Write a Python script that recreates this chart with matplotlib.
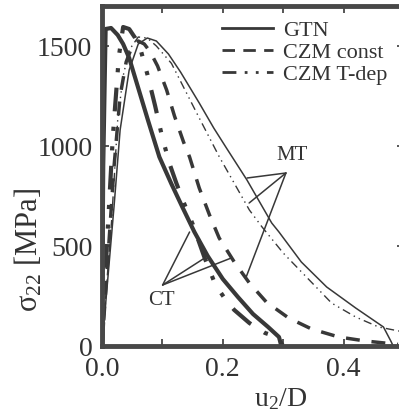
import matplotlib
matplotlib.use("Agg")
import matplotlib.pyplot as plt
from matplotlib.lines import Line2D
from matplotlib.ticker import MultipleLocator

plt.rcParams['font.family'] = ['Liberation Serif', 'DejaVu Serif']
plt.rcParams['mathtext.fontset'] = 'custom'
plt.rcParams['mathtext.rm'] = 'Liberation Serif'
plt.rcParams['mathtext.it'] = 'Liberation Serif:italic'

# ---- data ----
ct_gtn_u = [0, 0.002, 0.006, 0.015, 0.026, 0.035, 0.045, 0.06, 0.076, 0.095, 0.115,
            0.133, 0.153, 0.175, 0.2, 0.225, 0.25, 0.275, 0.293, 0.297]
ct_gtn_s = [0, 900, 1585, 1590, 1555, 1510, 1440, 1290, 1130, 945, 810,
            695, 570, 450, 335, 245, 160, 95, 45, 0]

ct_tdep_u = [0, 0.008, 0.018, 0.028, 0.035, 0.045, 0.055, 0.065, 0.075, 0.088, 0.1,
             0.112, 0.123, 0.135, 0.15, 0.17, 0.188, 0.205, 0.219, 0.244, 0.27, 0.29, 0.30]
ct_tdep_s = [0, 500, 1050, 1450, 1595, 1585, 1540, 1470, 1360, 1200, 1040,
             910, 815, 720, 610, 440, 305, 230, 180, 115, 65, 45, 0]

czm_const_u = [0, 0.01, 0.02, 0.03, 0.04, 0.05, 0.06, 0.07, 0.08, 0.092, 0.107, 0.12,
               0.135, 0.145, 0.161, 0.178, 0.194, 0.219, 0.244, 0.272, 0.309, 0.347,
               0.392, 0.436, 0.49]
czm_const_s = [0, 450, 900, 1250, 1420, 1500, 1525, 1510, 1470, 1400, 1280, 1150,
               1020, 945, 790, 655, 540, 420, 315, 220, 140, 85, 45, 25, 8]

mt_gtn_u = [0, 0.01, 0.02, 0.03, 0.045, 0.06, 0.075, 0.09, 0.11, 0.13, 0.161, 0.185,
            0.206, 0.24, 0.281, 0.293, 0.33, 0.372, 0.42, 0.466, 0.479, 0.482]
mt_gtn_s = [0, 350, 700, 1080, 1380, 1510, 1540, 1525, 1460, 1370, 1215, 1090,
            990, 830, 615, 570, 420, 295, 190, 95, 20, 0]

mt_tdep_u = [0, 0.008, 0.016, 0.026, 0.035, 0.045, 0.06, 0.075, 0.09, 0.115, 0.161,
             0.194, 0.244, 0.265, 0.3, 0.38, 0.42, 0.458, 0.5]
mt_tdep_s = [0, 320, 630, 1130, 1350, 1480, 1545, 1540, 1500, 1413, 1140,
             947, 680, 595, 465, 215, 145, 95, 70]

legend_labels = ['GTN', 'CZM const', 'CZM T-dep']
xtick_vals = [0.0, 0.2, 0.4]
xtick_labels = ['0.0', '0.2', '0.4']
ytick_vals = [0, 500, 1000, 1500]

# annotation anchors (label text, tip, targets)
mt_label = (0.314, 955)
mt_tip = (0.3045, 865)
mt_targets = [(0.2403, 840), (0.2436, 715), (0.2387, 345)]
ct_label = (0.098, 230)
ct_tip = (0.1004, 305)
ct_targets = [(0.145, 570), (0.170, 440), (0.214, 440)]

# ---- figure ----
W, H = 399, 415
fig = plt.figure(figsize=(W / 100, H / 100), dpi=100)
ax = fig.add_axes([102 / W, (H - 346) / H, 302 / W, 340 / H])

c_line = '#383838'
c_axis = '#484848'

dash_const = (0, (4.0, 3.4))
dashdot_thick = (0, (5.7, 3.7, 1.0, 3.7, 1.0, 3.7))
dashdot_thin = (0, (6.0, 3.0, 1.0, 3.0, 1.0, 3.0))

ax.plot(mt_gtn_u, mt_gtn_s, color=c_line, lw=1.1, solid_capstyle='butt')
ax.plot(mt_tdep_u, mt_tdep_s, color=c_line, lw=1.0, linestyle=dashdot_thin,
        dash_capstyle='butt')
ax.plot(czm_const_u, czm_const_s, color=c_line, lw=2.5, linestyle=dash_const,
        dash_capstyle='butt')
ax.plot(ct_tdep_u, ct_tdep_s, color=c_line, lw=3.0, linestyle=dashdot_thick,
        dash_capstyle='butt')
ax.plot(ct_gtn_u, ct_gtn_s, color=c_line, lw=3.0, solid_capstyle='butt')

# pointers
for tgt in mt_targets:
    ax.annotate('', xy=tgt, xytext=mt_tip,
                arrowprops=dict(arrowstyle='-', lw=1.1, color=c_line,
                                shrinkA=0, shrinkB=0))
for tgt in ct_targets:
    ax.annotate('', xy=tgt, xytext=ct_tip,
                arrowprops=dict(arrowstyle='-', lw=1.1, color=c_line,
                                shrinkA=0, shrinkB=0))
ax.text(mt_label[0], mt_label[1], 'MT', fontsize=15, color='#333333',
        ha='center', va='center')
ax.text(ct_label[0], ct_label[1], 'CT', fontsize=15, color='#333333',
        ha='center', va='center')

ax.set_xlim(0, 0.5)
ax.set_ylim(0, 1700)

ax.set_xticks(xtick_vals)
ax.set_xticklabels(xtick_labels)
ax.xaxis.set_minor_locator(MultipleLocator(0.1))
ax.set_yticks(ytick_vals)
ax.tick_params(which='both', direction='in', top=True, right=True,
               length=5, width=1.3, color=c_axis, labelsize=20,
               labelcolor='#333333')
ax.tick_params(axis='x', pad=8)
ax.tick_params(axis='y', pad=7)

for sp in ax.spines.values():
    sp.set_linewidth(3.5)
    sp.set_color(c_axis)

ax.set_ylabel(r'$\mathrm{\sigma_{22}}$ [MPa]', fontsize=22, color='#333333')
ax.yaxis.set_label_coords(-0.19, 0.282)
ax.set_xlabel(r'$\mathrm{u_2/D}$', fontsize=20, color='#333333')
ax.xaxis.set_label_coords(0.593, -0.118)

handles = [
    Line2D([], [], color=c_line, lw=2.0),
    Line2D([], [], color=c_line, lw=2.0, linestyle=(0, (4.5, 3.0))),
    Line2D([], [], color=c_line, lw=2.0, linestyle=(0, (5.0, 3.0, 1.0, 3.0, 1.0, 3.0))),
]
leg = ax.legend(handles, legend_labels, loc='upper left',
                bbox_to_anchor=(0.397, 0.957), frameon=False, fontsize=16,
                handlelength=2.3, handletextpad=0.45, labelspacing=0.05,
                borderpad=0, borderaxespad=0)
for t in leg.get_texts():
    t.set_color('#333333')

fig.savefig('out.png', dpi=100)
